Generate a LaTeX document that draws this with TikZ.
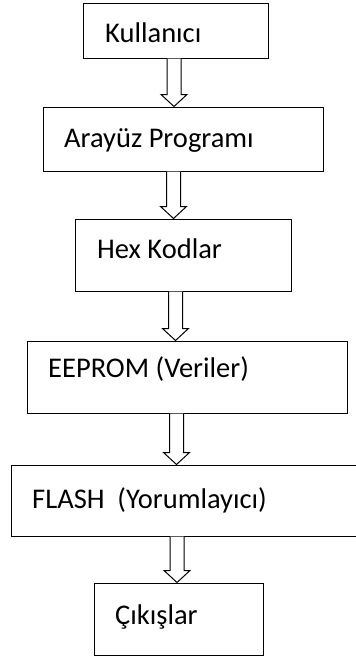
\documentclass[tikz,border=0pt]{standalone}
\usepackage{fontspec}
\setmainfont{Carlito}
\usetikzlibrary{calc}
\tikzset{
  box/.style={draw, line width=1pt, rectangle, inner sep=0pt},
  lbl/.style={anchor=base west, inner sep=0pt, font=\fontsize{28.5}{32}\selectfont},
  arrowline/.style={draw, line width=1pt, fill=white, line join=miter}
}
\newcommand\harrow[3]{%
  \draw[arrowline] ($(#1.south -| #3)+(-7pt,0)$) -- ($(#2.north -| #3)+(-7pt,12pt)$) -- ++(-6pt,0) -- (#2.north -| #3) -- ($(#2.north -| #3)+(13pt,12pt)$) -- ++(-6pt,0) -- ($(#1.south -| #3)+(7pt,0)$);}
\begin{document}
\begin{tikzpicture}[x=1pt,y=1pt]
\useasboundingbox (0,0) rectangle (356,-659);
\clip (0,0) rectangle (356,-659);
\node[box, minimum width=185pt, minimum height=55pt] (b1) at (175.5,-30.5) {};
\node[box, minimum width=280pt, minimum height=64pt] (b2) at (183,-139) {};
\node[box, minimum width=216pt, minimum height=72pt] (b3) at (183,-255) {};
\node[box, minimum width=320pt, minimum height=72pt] (b4) at (187,-377) {};
\node[box, minimum width=388pt, minimum height=71pt] (b5) at (205,-500.5) {};
\node[box, minimum width=169pt, minimum height=72pt] (b6) at (178.5,-619) {};
\node[lbl] (t1) at (105,-42) {Kullanıcı};
\node[lbl] (t2) at (64,-147) {Arayüz Programı};
\node[lbl] (t3) at (97,-258) {Hex Kodlar};
\node[lbl] (t4) at (48,-377) {EEPROM (Veriler)};
\node[lbl] (t5) at (32,-508) {FLASH\ \ (Yorumlayıcı)};
\node[lbl] (t6) at (115,-624) {Çıkışlar};
\coordinate (x1) at (174,0);
\coordinate (x2) at (173.5,0);
\coordinate (x3) at (175.5,0);
\coordinate (x4) at (176.5,0);
\coordinate (x5) at (177,0);
\harrow{b1}{b2}{x1}
\harrow{b2}{b3}{x2}
\harrow{b3}{b4}{x3}
\harrow{b4}{b5}{x4}
\harrow{b5}{b6}{x5}
\end{tikzpicture}
\end{document}
